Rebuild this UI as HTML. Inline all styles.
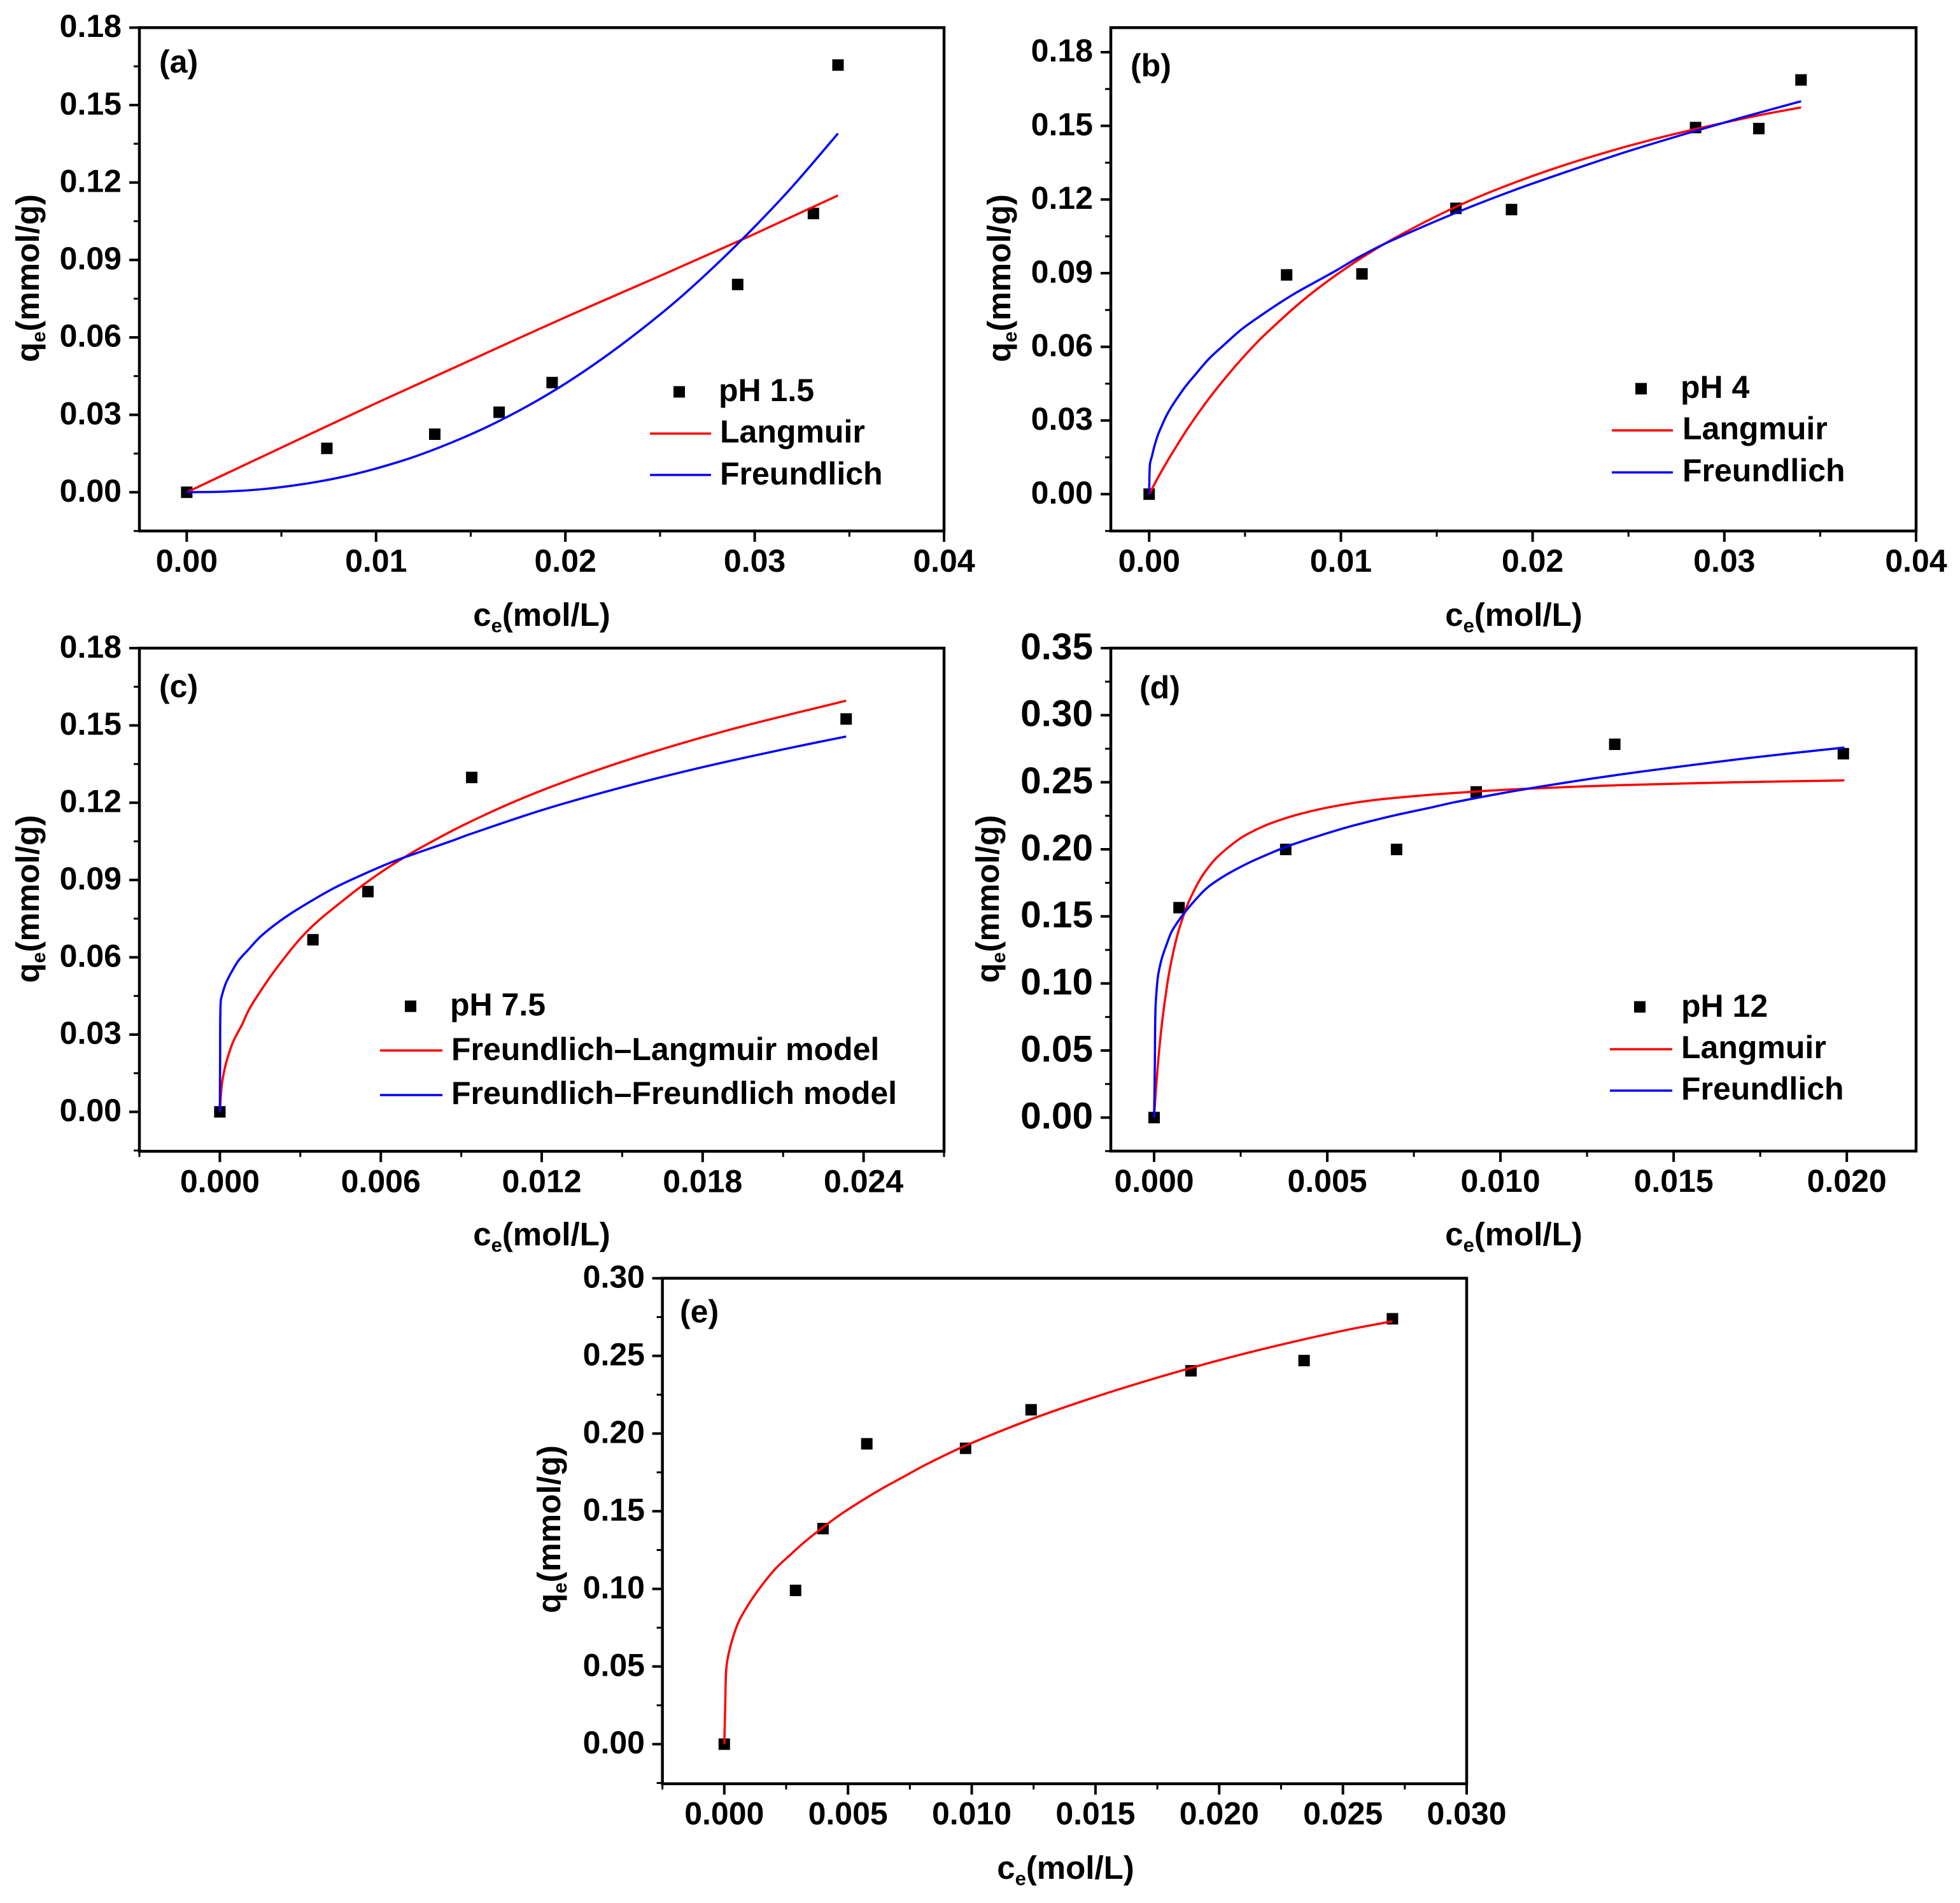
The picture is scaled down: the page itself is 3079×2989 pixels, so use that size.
<!DOCTYPE html>
<html lang="en">
<head>
<meta charset="utf-8">
<title>Adsorption isotherms at five pH values</title>
<style>
html,body{margin:0;padding:0;background:#fff;}
svg{display:block;}
text{font-family:"Liberation Sans",Arial,sans-serif;font-weight:bold;fill:#000;}
.t{font-size:50px;}
.at{font-size:51px;}
.sub{font-size:31px;}
.leg{stroke-width:3.5;fill:none;}
</style>
</head>
<body>
<svg id="figure" xmlns="http://www.w3.org/2000/svg" width="3079" height="2989" viewBox="0 0 3079 2989">
  <rect x="0" y="0" width="3079" height="2989" fill="#fff"/>

  <g id="panel-a"></g>
  <g id="panel-b"></g>
  <g id="panel-c"></g>
  <g id="panel-d"></g>
  <g id="panel-e"></g>

  <!-- Panel a text -->
  <text class="t" x="250" y="114">(a)</text>
  <text class="at" x="851" y="983" text-anchor="middle">c<tspan class="sub" dy="10">e</tspan><tspan dy="-10">(mol/L)</tspan></text>
  <text class="at" transform="translate(61 437) rotate(-90)" text-anchor="middle">q<tspan class="sub" dy="10">e</tspan><tspan dy="-10">(mmol/g)</tspan></text>
  <g>
    <rect x="1058" y="606.5" width="18" height="18" fill="#000"/>
    <text class="t" x="1129" y="630">pH 1.5</text>
    <line class="leg" x1="1021" y1="681" x2="1117" y2="681" stroke="#f00"/>
    <text class="t" x="1131" y="695">Langmuir</text>
    <line class="leg" x1="1021" y1="746" x2="1117" y2="746" stroke="#00f"/>
    <text class="t" x="1131" y="761">Freundlich</text>
  </g>

  <!-- Panel b text -->
  <text class="t" x="1776" y="120">(b)</text>
  <text class="at" x="2378" y="983" text-anchor="middle">c<tspan class="sub" dy="10">e</tspan><tspan dy="-10">(mol/L)</tspan></text>
  <text class="at" transform="translate(1587 437) rotate(-90)" text-anchor="middle">q<tspan class="sub" dy="10">e</tspan><tspan dy="-10">(mmol/g)</tspan></text>
  <g>
    <rect x="2569" y="601.5" width="18" height="18" fill="#000"/>
    <text class="t" x="2640" y="625">pH 4</text>
    <line class="leg" x1="2532" y1="676" x2="2628" y2="676" stroke="#f00"/>
    <text class="t" x="2643" y="690">Langmuir</text>
    <line class="leg" x1="2532" y1="742" x2="2628" y2="742" stroke="#00f"/>
    <text class="t" x="2643" y="756">Freundlich</text>
  </g>

  <!-- Panel c text -->
  <text class="t" x="250" y="1095">(c)</text>
  <text class="at" x="851" y="1956" text-anchor="middle">c<tspan class="sub" dy="10">e</tspan><tspan dy="-10">(mol/L)</tspan></text>
  <text class="at" transform="translate(61 1412) rotate(-90)" text-anchor="middle">q<tspan class="sub" dy="10">e</tspan><tspan dy="-10">(mmol/g)</tspan></text>
  <g>
    <rect x="636" y="1571.5" width="18" height="18" fill="#000"/>
    <text class="t" x="707" y="1595">pH 7.5</text>
    <line class="leg" x1="597" y1="1650" x2="695" y2="1650" stroke="#f00"/>
    <text class="t" x="709" y="1665">Freundlich–Langmuir model</text>
    <line class="leg" x1="597" y1="1720" x2="695" y2="1720" stroke="#00f"/>
    <text class="t" x="709" y="1734">Freundlich–Freundlich model</text>
  </g>

  <!-- Panel d text -->
  <text class="t" x="1790" y="1097">(d)</text>
  <text class="at" x="2378" y="1956" text-anchor="middle">c<tspan class="sub" dy="10">e</tspan><tspan dy="-10">(mol/L)</tspan></text>
  <text class="at" transform="translate(1569 1412) rotate(-90)" text-anchor="middle">q<tspan class="sub" dy="10">e</tspan><tspan dy="-10">(mmol/g)</tspan></text>
  <g>
    <rect x="2567" y="1572.5" width="18" height="18" fill="#000"/>
    <text class="t" x="2641" y="1597">pH 12</text>
    <line class="leg" x1="2529" y1="1648" x2="2627" y2="1648" stroke="#f00"/>
    <text class="t" x="2641" y="1662">Langmuir</text>
    <line class="leg" x1="2529" y1="1713" x2="2627" y2="1713" stroke="#00f"/>
    <text class="t" x="2641" y="1727">Freundlich</text>
  </g>

  <!-- Panel e text -->
  <text class="t" x="1068" y="2077">(e)</text>
  <text class="at" x="1674" y="2951" text-anchor="middle">c<tspan class="sub" dy="10">e</tspan><tspan dy="-10">(mol/L)</tspan></text>
  <text class="at" transform="translate(880 2402) rotate(-90)" text-anchor="middle">q<tspan class="sub" dy="10">e</tspan><tspan dy="-10">(mmol/g)</tspan></text>
</svg>

<script>
// ---------- Panel (a) data ----------
const aXTickLabels = ["0.00","0.01","0.02","0.03","0.04"];
const aXMinorTicks = [0.005,0.015,0.025,0.035];
const aYTickLabels = ["0.00","0.03","0.06","0.09","0.12","0.15","0.18"];
const aYMinorTicks = [-0.015,0.015,0.045,0.075,0.105,0.135,0.165];
const aScatterX = [0,0.0074,0.0131,0.0165,0.0193,0.0291,0.0331,0.0344];
const aScatterY = [0,0.017,0.0225,0.031,0.0425,0.0805,0.108,0.1655];
const aLangmuirX = [0,0.005,0.01,0.015,0.02,0.025,0.03,0.0344];
const aLangmuirY = [0,0.0173,0.0345,0.0512,0.0678,0.0838,0.1001,0.115];
const aFreundlichX = [0,0.002,0.004,0.006,0.008,0.01,0.012,0.014,0.016,0.018,0.02,0.022,0.024,0.026,0.028,0.03,0.032,0.0344];
const aFreundlichY = [0,0.00026,0.0012,0.003,0.0056,0.0092,0.0137,0.0193,0.0258,0.0334,0.0421,0.052,0.063,0.075,0.0884,0.1029,0.1185,0.139];

// ---------- Panel (b) data ----------
const bXTickLabels = ["0.00","0.01","0.02","0.03","0.04"];
const bXMinorTicks = [0.005,0.015,0.025,0.035];
const bYTickLabels = ["0.00","0.03","0.06","0.09","0.12","0.15","0.18"];
const bYMinorTicks = [-0.015,0.015,0.045,0.075,0.105,0.135,0.165];
const bScatterX = [0,0.00717,0.0111,0.016,0.0189,0.0285,0.0318,0.034];
const bScatterY = [0,0.0893,0.0897,0.1164,0.1159,0.1493,0.1489,0.1687];
const bLangmuirX = [0,0.00043,0.001,0.002,0.003,0.004,0.005,0.006,0.008,0.01,0.012,0.014,0.016,0.018,0.021,0.024,0.027,0.03,0.032,0.034];
const bLangmuirY = [0,0.0063,0.0141,0.0266,0.0377,0.0476,0.0566,0.0647,0.0788,0.0906,0.1007,0.1093,0.117,0.1237,0.1323,0.1396,0.1459,0.1513,0.1546,0.1575];
const bFreundlichX = [0,0.00004,0.00015,0.00027,0.00046,0.00065,0.00087,0.00115,0.00148,0.00187,0.00242,0.00314,0.00392,0.0048,0.0058,0.00679,0.00768,0.00867,0.00978,0.011,0.01254,0.016,0.019,0.022,0.025,0.028,0.031,0.034];
const bFreundlichY = [0,0.0121,0.0156,0.0194,0.0242,0.0277,0.0315,0.0354,0.0393,0.0436,0.0488,0.0553,0.0609,0.067,0.0726,0.0778,0.0821,0.0864,0.0912,0.0968,0.1029,0.1146,0.1237,0.1319,0.1397,0.1468,0.1536,0.16];

// ---------- Panel (c) data ----------
const cXTickLabels = ["0.000","0.006","0.012","0.018","0.024"];
const cXMinorTicks = [-0.003,0.003,0.009,0.015,0.021,0.027];
const cYTickLabels = ["0.00","0.03","0.06","0.09","0.12","0.15","0.18"];
const cYMinorTicks = [-0.015,0.015,0.045,0.075,0.105,0.135,0.165];
const cScatterX = [0,0.00347,0.00552,0.00939,0.02335];
const cScatterY = [0,0.0668,0.0855,0.1298,0.1525];
const cLangmuirX = [0,0.00005,0.00011,0.00023,0.00043,0.00058,0.00082,0.00106,0.00138,0.00193,0.00256,0.00308,0.00367,0.00454,0.00533,0.00612,0.00691,0.0075,0.009,0.011,0.013,0.015,0.017,0.019,0.021,0.02335];
const cLangmuirY = [0,0.0082,0.0131,0.0189,0.0255,0.0291,0.0337,0.0392,0.0447,0.0532,0.0618,0.0682,0.0742,0.0816,0.0880,0.0938,0.0990,0.1026,0.1109,0.1205,0.1287,0.1359,0.1424,0.1483,0.1536,0.1596];
const cFreundlichX = [0,0.00001,0.00003,0.00011,0.00023,0.00043,0.0007,0.00102,0.00149,0.00201,0.00256,0.00327,0.0043,0.00541,0.00652,0.00763,0.00865,0.0093,0.012,0.015,0.018,0.021,0.02335];
const cFreundlichY = [0,0.0205,0.0427,0.0464,0.0501,0.0542,0.0588,0.0625,0.0678,0.0723,0.0764,0.081,0.0871,0.0925,0.0974,0.1015,0.1052,0.1077,0.1171,0.126,0.1338,0.1407,0.1457];

// ---------- Panel (d) data ----------
const dXTickLabels = ["0.000","0.005","0.010","0.015","0.020"];
const dXMinorTicks = [0.0025,0.0075,0.0125,0.0175];
const dYTickLabels = ["0.00","0.05","0.10","0.15","0.20","0.25","0.30","0.35"];
const dYMinorTicks = [-0.025,0.025,0.075,0.125,0.175,0.225,0.275,0.325];
const dScatterX = [0,0.00072,0.0038,0.007,0.0093,0.0133,0.0199];
const dScatterY = [0,0.1565,0.1999,0.1999,0.2428,0.2783,0.2713];
const dLangmuirX = [0,0.00002,0.00006,0.00013,0.00023,0.00038,0.0005,0.00066,0.00084,0.00102,0.0013,0.00154,0.00185,0.0024,0.00277,0.00338,0.00412,0.0051,0.00632,0.00786,0.0093,0.0107,0.0133,0.01663,0.01993];
const dLangmuirY = [0,0.0083,0.0232,0.0456,0.071,0.0996,0.1168,0.1348,0.15,0.162,0.1764,0.1857,0.1949,0.2066,0.2124,0.2195,0.2257,0.2316,0.2366,0.2404,0.2431,0.2451,0.2477,0.2499,0.2514];
const dFreundlichX = [0,0.00002,0.00004,0.00009,0.00013,0.00023,0.00038,0.0005,0.00069,0.00087,0.00118,0.00154,0.00203,0.00265,0.00326,0.00387,0.00479,0.00571,0.00694,0.00786,0.00877,0.0107,0.0133,0.0166,0.0185,0.01993];
const dFreundlichY = [0,0.0378,0.0813,0.1003,0.1082,0.1193,0.1304,0.1383,0.1462,0.1525,0.162,0.1715,0.1802,0.1889,0.196,0.2024,0.2103,0.2174,0.2253,0.2304,0.2356,0.2448,0.2552,0.2663,0.2719,0.2759];

// ---------- Panel (e) data ----------
const eXTickLabels = ["0.000","0.005","0.010","0.015","0.020","0.025","0.030"];
const eXMinorTicks = [-0.0025,0.0025,0.0075,0.0125,0.0175,0.0225,0.0275];
const eYTickLabels = ["0.00","0.05","0.10","0.15","0.20","0.25","0.30"];
const eYMinorTicks = [-0.025,0.025,0.075,0.125,0.175,0.225,0.275];
const eScatterX = [0,0.00288,0.00399,0.00576,0.00975,0.0124,0.01886,0.02343,0.027];
const eScatterY = [0,0.099,0.1388,0.1934,0.1905,0.2153,0.2404,0.247,0.2739];
const eLangmuirX = [0,0.00003,0.00006,0.00009,0.00015,0.00026,0.00043,0.0006,0.00086,0.00116,0.00163,0.0021,0.0027,0.00317,0.00381,0.00467,0.00553,0.00639,0.00725,0.00811,0.00975,0.0124,0.015,0.0175,0.02,0.0225,0.025,0.027];
const eLangmuirY = [0,0.0187,0.0419,0.0501,0.0562,0.0637,0.0726,0.0795,0.0869,0.0944,0.1046,0.1135,0.1224,0.1292,0.1374,0.1476,0.1565,0.1647,0.1722,0.1797,0.1922,0.2092,0.2236,0.236,0.2472,0.2572,0.2662,0.2723];

const SVG_NS = "http://www.w3.org/2000/svg";

function makeScale(d0, d1, r0, r1) {
  return function (v) { return r0 + (v - d0) * (r1 - r0) / (d1 - d0); };
}

function make(parent, tag, attrs) {
  const el = document.createElementNS(SVG_NS, tag);
  for (const k in attrs) el.setAttribute(k, attrs[k]);
  parent.appendChild(el);
  return el;
}

function smoothPath(pts) {
  if (pts.length < 2) return "";
  const tangents = pts.map(function (p, i) {
    const a = pts[Math.max(i - 1, 0)], b = pts[Math.min(i + 1, pts.length - 1)];
    const dx = b[0] - a[0], dy = b[1] - a[1];
    const len = Math.hypot(dx, dy) || 1;
    return [dx / len, dy / len];
  });
  let d = "M" + pts[0][0].toFixed(2) + " " + pts[0][1].toFixed(2);
  for (let i = 0; i < pts.length - 1; i++) {
    const p = pts[i], q = pts[i + 1];
    const s = Math.hypot(q[0] - p[0], q[1] - p[1]) / 3;
    d += "C" + (p[0] + tangents[i][0] * s).toFixed(2) + " " + (p[1] + tangents[i][1] * s).toFixed(2) +
         " " + (q[0] - tangents[i + 1][0] * s).toFixed(2) + " " + (q[1] - tangents[i + 1][1] * s).toFixed(2) +
         " " + q[0].toFixed(2) + " " + q[1].toFixed(2);
  }
  return d;
}

function drawPanel(id, box, xTickLabels, xMinorTicks, yTickLabels, yMinorTicks, scatterX, scatterY, curves) {
  const g = document.getElementById(id);
  const x = makeScale(box.xMin, box.xMax, box.left, box.right);
  const y = makeScale(box.yMin, box.yMax, box.bottom, box.top);
  const ink = "#000";

  const ticks = make(g, "g", {});
  
  

  xTickLabels.forEach(function (lab) {
    const v = Number(lab), px = x(v);
    const t = make(ticks, "line", { x1: px, x2: px, y1: box.bottom, y2: box.bottom + 17, stroke: ink, "stroke-width": 4 });
    
    
    const l = make(g, "text", { x: px, y: box.bottom + 64, "text-anchor": "middle", "font-size": 50 });
    
    
    l.textContent = lab;
  });
  xMinorTicks.forEach(function (v) {
    const px = x(v);
    const t = make(ticks, "line", { x1: px, x2: px, y1: box.bottom, y2: box.bottom + 9, stroke: ink, "stroke-width": 3 });
    
    
  });
  yTickLabels.forEach(function (lab) {
    const v = Number(lab), py = y(v);
    const t = make(ticks, "line", { x1: box.left, x2: box.left - 16, y1: py, y2: py, stroke: ink, "stroke-width": 4 });
    
    
    const l = make(g, "text", { x: box.yLabelRight, y: py + box.yLabelSize * 0.295, "text-anchor": "end", "font-size": box.yLabelSize });
    
    
    l.textContent = lab;
  });
  yMinorTicks.forEach(function (v) {
    const py = y(v);
    const t = make(ticks, "line", { x1: box.left, x2: box.left - 9, y1: py, y2: py, stroke: ink, "stroke-width": 3 });
    
    
  });

  const frame = make(g, "rect", { x: box.left, y: box.top, width: box.right - box.left, height: box.bottom - box.top, fill: "none", stroke: ink, "stroke-width": 4.5 });
  
  

  const pts = make(g, "g", {});
  
  
  scatterX.forEach(function (v, i) {
    const r = make(pts, "rect", { x: x(v) - 9, y: y(scatterY[i]) - 9, width: 18, height: 18, fill: ink });
    
    
  });

  curves.forEach(function (c) {
    const line = make(g, "path", {
      d: smoothPath(c.xs.map(function (v, i) { return [x(v), y(c.ys[i])]; })),
      fill: "none", stroke: c.color, "stroke-width": 3.5, "stroke-linejoin": "round", "stroke-linecap": "butt"
    });
    
    
  });
}

drawPanel("panel-a",
  { left: 219, right: 1483, top: 43.4, bottom: 834, xMin: -0.0025, xMax: 0.04, yMin: -0.015, yMax: 0.18, yLabelRight: 191, yLabelSize: 50 },
  aXTickLabels, aXMinorTicks, aYTickLabels, aYMinorTicks, aScatterX, aScatterY,
  [{ xs: aLangmuirX, ys: aLangmuirY, color: "#f00", name: "langmuir-curve" },
   { xs: aFreundlichX, ys: aFreundlichY, color: "#00f", name: "freundlich-curve" }]);

drawPanel("panel-b",
  { left: 1745, right: 3010, top: 43.4, bottom: 834, xMin: -0.002, xMax: 0.04, yMin: -0.015, yMax: 0.19, yLabelRight: 1717, yLabelSize: 50 },
  bXTickLabels, bXMinorTicks, bYTickLabels, bYMinorTicks, bScatterX, bScatterY,
  [{ xs: bLangmuirX, ys: bLangmuirY, color: "#f00", name: "langmuir-curve" },
   { xs: bFreundlichX, ys: bFreundlichY, color: "#00f", name: "freundlich-curve" }]);

drawPanel("panel-c",
  { left: 219, right: 1483, top: 1018, bottom: 1808.3, xMin: -0.003, xMax: 0.027, yMin: -0.0153, yMax: 0.18, yLabelRight: 191, yLabelSize: 50 },
  cXTickLabels, cXMinorTicks, cYTickLabels, cYMinorTicks, cScatterX, cScatterY,
  [{ xs: cLangmuirX, ys: cLangmuirY, color: "#f00", name: "freundlich-langmuir-curve" },
   { xs: cFreundlichX, ys: cFreundlichY, color: "#00f", name: "freundlich-freundlich-curve" }]);

drawPanel("panel-d",
  { left: 1745, right: 3010, top: 1018, bottom: 1808, xMin: -0.00125, xMax: 0.022, yMin: -0.025, yMax: 0.35, yLabelRight: 1717, yLabelSize: 58.5 },
  dXTickLabels, dXMinorTicks, dYTickLabels, dYMinorTicks, dScatterX, dScatterY,
  [{ xs: dLangmuirX, ys: dLangmuirY, color: "#f00", name: "langmuir-curve" },
   { xs: dFreundlichX, ys: dFreundlichY, color: "#00f", name: "freundlich-curve" }]);

drawPanel("panel-e",
  { left: 1040.6, right: 2304, top: 2007.7, bottom: 2801.7, xMin: -0.0025, xMax: 0.03, yMin: -0.0255, yMax: 0.30, yLabelRight: 1013, yLabelSize: 50 },
  eXTickLabels, eXMinorTicks, eYTickLabels, eYMinorTicks, eScatterX, eScatterY,
  [{ xs: eLangmuirX, ys: eLangmuirY, color: "#f00", name: "fit-curve" }]);
</script>
</body>
</html>
